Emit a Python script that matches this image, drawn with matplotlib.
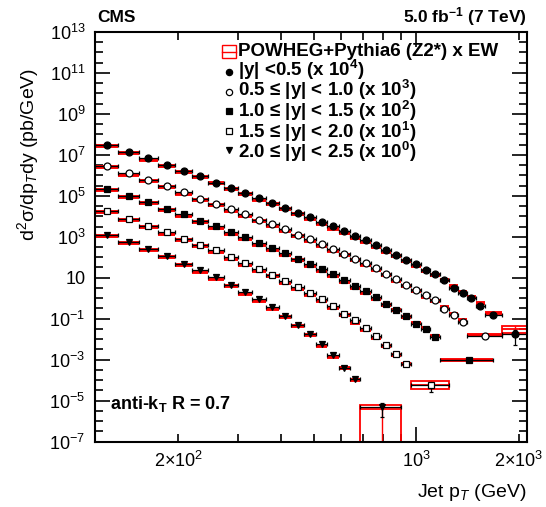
# Inclusive jet cross section vs jet pT in five rapidity bins, data vs POWHEG+Pythia6
import numpy as np
import matplotlib
matplotlib.use('Agg')
import matplotlib.pyplot as plt
from matplotlib.patches import Rectangle
from matplotlib.lines import Line2D
from matplotlib.ticker import FixedFormatter, NullFormatter

plt.rcParams['font.family'] = ['Liberation Sans', 'DejaVu Sans']
plt.rcParams['mathtext.fontset'] = 'custom'
plt.rcParams['mathtext.rm'] = 'Liberation Sans'
plt.rcParams['mathtext.it'] = 'Liberation Sans:italic'
plt.rcParams['mathtext.bf'] = 'Liberation Sans:bold'

# jet pT bin edges (GeV)
pt_edges = [114, 133, 153, 174, 196, 220, 245, 272, 300, 330, 362, 395, 430, 468,
            507, 548, 592, 638, 686, 737, 790, 846, 905, 967, 1032, 1101, 1172,
            1248, 1327, 1410, 1497, 1588, 1684, 1784, 1890, 2000, 2116]

# per-rapidity bin edges (last bins merged at high pT)
edges_y1 = pt_edges[:32] + [1784, 2116]
edges_y2 = pt_edges[:30] + [1784]
edges_y3 = pt_edges[:27] + [1684]
edges_y4 = pt_edges[:24] + [1248]
edges_y5 = pt_edges[:19] + [905]

# measured cross sections (pb/GeV), unscaled
data_y1 = [2980, 1355, 667, 313, 165, 94, 42.8, 24.3, 13.9, 7.89, 4.50, 2.56, 1.52,
           0.929, 0.530, 0.326, 0.186, 0.109, 0.0675, 0.0384, 0.0219, 0.0135,
           7.67e-3, 4.52e-3, 2.49e-3, 1.47e-3, 8.07e-4, 3.28e-4, 1.79e-4, 1.06e-4,
           3.99e-5, 1.45e-5, 1.71e-6]
data_y2 = [2800, 1230, 579, 305, 155, 73.8, 42.0, 23.9, 13.0, 6.93, 4.08, 2.33, 1.28,
           0.755, 0.455, 0.251, 0.144, 0.0820, 0.0506, 0.0282, 0.0158, 8.17e-3,
           4.65e-3, 2.62e-3, 1.38e-3, 7.85e-4, 3.08e-4, 1.45e-4, 6.82e-5, 1.36e-5]
data_y3 = [2100, 989, 504, 221, 126, 59.3, 33.7, 17.2, 9.77, 4.98, 2.83, 1.65, 0.859,
           0.468, 0.263, 0.158, 0.0780, 0.0388, 0.0221, 0.0114, 5.41e-3, 2.69e-3,
           1.37e-3, 5.38e-4, 3.00e-4, 1.26e-4, 9.14e-6]
data_y4 = [1830, 776, 337, 172, 81.7, 38.4, 21.9, 10.3, 5.47, 2.66, 1.36, 0.721, 0.367,
           0.179, 0.0879, 0.0399, 0.0175, 8.26e-3, 3.63e-3, 1.36e-3, 4.94e-4, 1.94e-4,
           6.31e-5, 5.47e-6]
data_y5 = [1280, 557, 245, 111, 48.9, 23.0, 10.8, 4.60, 2.00, 0.879, 0.369, 0.134,
           0.0486, 0.0185, 5.73e-3, 1.74e-3, 3.84e-4, 1.08e-4, 4.86e-6]

# POWHEG+Pythia6 x EW prediction (pb/GeV), unscaled
theo_y1 = [2660, 1210, 551, 280, 143, 78.5, 39.9, 21.0, 12.0, 6.59, 3.76, 2.21, 1.30,
           0.776, 0.442, 0.252, 0.148, 0.0873, 0.0538, 0.0317, 0.0181, 0.0111,
           6.34e-3, 3.91e-3, 2.13e-3, 1.31e-3, 7.46e-4, 4.11e-4, 2.00e-4, 1.14e-4,
           5.79e-5, 1.96e-5, 3.0e-6]
theo_y2 = [2420, 1050, 500, 255, 129, 65.9, 34.7, 18.3, 10.4, 5.73, 3.26, 1.86, 1.06,
           0.603, 0.355, 0.202, 0.124, 0.0710, 0.0404, 0.0230, 0.0131, 6.90e-3,
           3.79e-3, 2.16e-3, 1.14e-3, 7.02e-4, 3.69e-4, 1.75e-4, 8.93e-5, 1.65e-5]
theo_y3 = [2030, 883, 435, 198, 109, 55.3, 28.2, 14.3, 7.80, 3.97, 2.26, 1.29, 0.710,
           0.373, 0.213, 0.121, 0.0617, 0.0328, 0.0179, 9.08e-3, 4.84e-3, 2.55e-3,
           1.20e-3, 6.10e-4, 3.47e-4, 1.36e-4, 9.89e-6]
theo_y4 = [1580, 693, 301, 143, 72.9, 34.3, 18.1, 8.20, 4.38, 2.13, 1.17, 0.575, 0.293,
           0.143, 0.0702, 0.0319, 0.0145, 6.37e-3, 2.90e-3, 1.18e-3, 4.42e-4, 1.60e-4,
           5.82e-5, 5.47e-6]
theo_y5 = [1150, 481, 219, 99.5, 43.8, 19.0, 8.63, 3.79, 1.60, 0.702, 0.308, 0.116,
           0.0420, 0.0152, 4.57e-3, 1.39e-3, 3.84e-4, 1.04e-4, 3.67e-6]

# theory uncertainty boxes on the last bin of some series (unscaled)
box_series = [0, 3, 4]
box_lo = [2.07e-6, 3.5e-6, 5e-8]
box_hi = [4.35e-6, 8.9e-6, 5.75e-6]

# data vertical error bars on the last bin of some series (unscaled)
err_series = [0, 3, 4]
err_lo = [4.94e-7, 2.49e-6, 1.49e-6]
err_hi = [2.68e-6, 6.86e-6, 7.2e-6]

scales = [1e4, 1e3, 1e2, 1e1, 1e0]
labels = ['|y| <0.5 (x 10$^{\\mathbf{4}}$)',
          '0.5 \u2264 |y| < 1.0 (x 10$^{\\mathbf{3}}$)',
          '1.0 \u2264 |y| < 1.5 (x 10$^{\\mathbf{2}}$)',
          '1.5 \u2264 |y| < 2.0 (x 10$^{\\mathbf{1}}$)',
          '2.0 \u2264 |y| < 2.5 (x 10$^{\\mathbf{0}}$)']
markers = ['o', 'o', 's', 's', 'v']
mfaces = ['black', 'white', 'black', 'white', 'black']

edges_all = [edges_y1, edges_y2, edges_y3, edges_y4, edges_y5]
data_all = [data_y1, data_y2, data_y3, data_y4, data_y5]
theo_all = [theo_y1, theo_y2, theo_y3, theo_y4, theo_y5]

W, H = 546, 507
fig = plt.figure(figsize=(W / 100, H / 100), dpi=100)
ax = fig.add_axes([95 / W, 1 - 441.5 / H, 432 / W, 409.5 / H])
ax.set_xscale('log')
ax.set_yscale('log')

for i in range(5):
    e = np.array(edges_all[i], dtype=float)
    lo, hi = e[:-1], e[1:]
    ctr = 0.5 * (lo + hi)
    d = np.array(data_all[i]) * scales[i]
    t = np.array(theo_all[i]) * scales[i]
    n = len(d)
    thick = list(range(n))
    if i in box_series:
        k = box_series.index(i)
        thick = thick[:-1]
        blo, bhi = box_lo[k] * scales[i], box_hi[k] * scales[i]
        ax.add_patch(Rectangle((lo[-1], blo), hi[-1] - lo[-1], bhi - blo,
                               fill=False, ec='red', lw=1.3, zorder=2))
        ax.hlines(t[-1], lo[-1], hi[-1], color='red', lw=1.3, zorder=2)
        ax.vlines(ctr[-1], blo, bhi, color='red', lw=1.0, zorder=2)
    ax.hlines(t[thick], lo[thick], hi[thick], color='red', lw=2.8, zorder=2)

    yerr = np.zeros((2, n))
    if i in err_series:
        k = err_series.index(i)
        yerr[0, -1] = d[-1] - err_lo[k] * scales[i]
        yerr[1, -1] = err_hi[k] * scales[i] - d[-1]
    ax.errorbar(ctr, d, xerr=[ctr - lo, hi - ctr], yerr=yerr, fmt=markers[i],
                color='black', mfc=mfaces[i], mec='black', ms=5, mew=0.9,
                elinewidth=0.9, capsize=1.5, capthick=0.9, zorder=3)

ax.set_xlim(114, 2116)
ax.set_ylim(1e-7, 1e13)

# axis ticks
ax.set_xticks([1000], ['10$^3$'])
xminor = [200, 300, 400, 500, 600, 700, 800, 900, 2000]
ax.set_xticks(xminor, minor=True)
ax.xaxis.set_minor_formatter(FixedFormatter(
    ['2\u00d710$^2$', '', '', '', '', '', '', '', '2\u00d710$^3$']))
ymaj = [10.0 ** p for p in range(-7, 14, 2)]
ylab = ['10$^{%d}$' % p if p != 1 else '10' for p in range(-7, 14, 2)]
ax.set_yticks(ymaj, ylab)
ax.set_yticks([10.0 ** (p / 2) for p in range(-14, 27)], minor=True)
ax.yaxis.set_minor_formatter(NullFormatter())
ax.tick_params(which='both', direction='in', top=True, right=True, width=1.2,
               labelsize=13, pad=7)
ax.tick_params(which='major', length=11)
ax.tick_params(which='minor', length=6)
for s in ax.spines.values():
    s.set_linewidth(1.5)

ax.set_ylabel('d$^2$\u03c3/dp$_T$dy (pb/GeV)', fontsize=14, loc='top')
ax.yaxis.set_label_coords(-0.125, 0.913)
ax.set_xlabel('Jet p$_T$ (GeV)', fontsize=14, loc='right', labelpad=8)

fig.text(97 / W, 1 - 17 / H, 'CMS', fontsize=12.5, fontweight='bold', va='center')
fig.text(527 / W, 1 - 17 / H, '5.0 fb$^{\\mathbf{-1}}$ (7 TeV)', fontsize=12.5,
         fontweight='bold', va='center', ha='right')
fig.text(110 / W, 1 - 404 / H, 'anti-k$_{\\mathbf{T}}$ R = 0.7', fontsize=13,
         fontweight='bold', va='center')

# legend drawn by hand at fixed rows
row_y = [51.5, 72, 91.5, 111, 130.5, 150]
row_step = 19.5
leg_size = 13.5
fig.patches.append(Rectangle((222 / W, 1 - 58 / H), 14 / W, 12.5 / H, fill=False,
                             ec='red', lw=1.0, transform=fig.transFigure))
fig.lines.append(Line2D([222 / W, 236 / W], [1 - row_y[0] / H] * 2, color='red',
                        lw=1.0, transform=fig.transFigure))
fig.text(238 / W, 1 - row_y[0] / H, 'POWHEG+Pythia6 (Z2*) x EW', fontsize=leg_size,
         fontweight='bold', va='center')
for i in range(5):
    fig.lines.append(Line2D([229 / W], [1 - row_y[i + 1] / H], ls='none',
                            marker=markers[i], color='black', mfc=mfaces[i],
                            mec='black', ms=4.5, mew=0.9, transform=fig.transFigure))

# the five rapidity labels as one text block, spacing tuned to the row step
block = fig.text(238 / W, 1 - row_y[3] / H, '\n'.join(labels), fontsize=leg_size,
                 fontweight='bold', va='center', linespacing=1.0)
probe = fig.text(0, 0, labels[0], fontsize=leg_size, fontweight='bold')
rend = fig.canvas.get_renderer()
h_one = probe.get_window_extent(rend).height
step = (block.get_window_extent(rend).height - h_one) / 4
probe.remove()
block.set_linespacing(row_step / step)

fig.savefig('out.png', dpi=100)
